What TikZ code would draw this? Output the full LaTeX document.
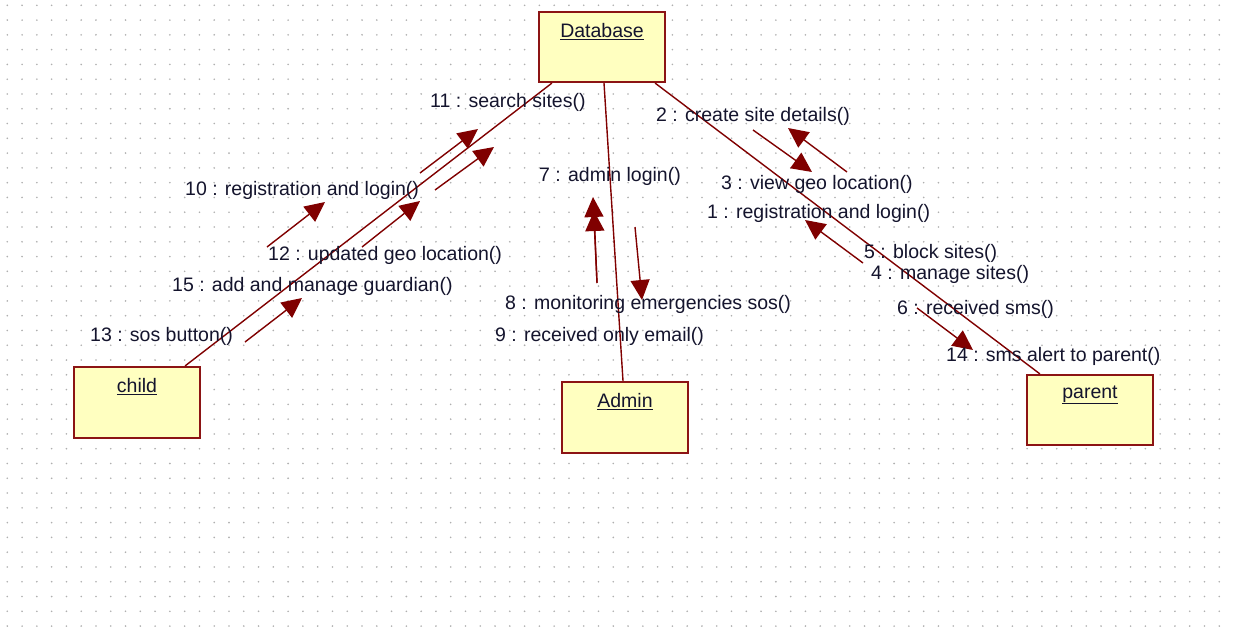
\documentclass[tikz,border=0pt]{standalone}
\usepackage{fontspec}
\newfontfamily\lab{Liberation Sans}
\usetikzlibrary{arrows.meta,calc}
\definecolor{dotc}{RGB}{175,175,175}
\definecolor{linkc}{RGB}{128,0,0}
\definecolor{boxfill}{RGB}{255,255,192}
\definecolor{boxdraw}{RGB}{140,20,20}
\definecolor{txtc}{RGB}{20,20,45}
\tikzset{
  objbox/.style={draw=boxdraw, line width=2.2pt, fill=boxfill, minimum width=126pt, minimum height=70pt, inner sep=0pt},
  objname/.style={anchor=center, inner sep=0pt, text=txtc, font=\lab\fontsize{19.5}{22}\selectfont},
  msg/.style={anchor=west, inner sep=0pt, text=txtc, font=\lab\fontsize{19.5}{22}\selectfont},
  link/.style={draw=linkc, line width=1.4pt},
  msgarrow/.style={draw=linkc, line width=1.4pt, -{Triangle[length=20pt,width=19pt]}, linkc}
}
\begin{document}
\begin{tikzpicture}[x=1pt,y=-1pt]
\useasboundingbox (0,0) rectangle (1233,627);
\fill[white] (0,0) rectangle (1233,627);
% dotted grid
\foreach \i in {0,...,82}{
  \foreach \j in {0,...,42}{
    \fill[dotc] ({7.3+14.78*\i},{5.3+14.78*\j}) circle (0.9);
  }
}
% objects
\node[objbox] (db) at (602,47) {};
\node[objbox, minimum height=71pt] (child) at (137,402.5) {};
\node[objbox, minimum height=71pt] (admin) at (625,417.5) {};
\node[objbox] (parent) at (1090,410) {};
% links
\draw[link] ($(db.south west)+(14,0)$) -- ($(child.north east)+(-16,0)$);
\draw[link] ($(db.south)+(2,0)$) -- ($(admin.north)+(-2,0)$);
\draw[link] ($(db.south east)+(-11,0)$) -- ($(parent.north west)+(14,0)$);
% object names
\node[objname] (dbt) at ($(db.north)+(0,21)$) {\underline{Database}};
\node[objname] (childt) at ($(child.north)+(0,21)$) {\underline{child}};
\node[objname] (admint) at ($(admin.north)+(0,21)$) {\underline{Admin}};
\node[objname] (parentt) at ($(parent.north)+(0,21)$) {\underline{parent}};
% message arrows
\draw[msgarrow] (420,173) -- (478,129);
\draw[msgarrow] (435,190) -- (494,147);
\draw[msgarrow] (267,247) -- (325,202);
\draw[msgarrow] (362,247) -- (420,201);
\draw[msgarrow] (245,342) -- (302,298);
\draw[msgarrow] (597,283) -- (594,211);
\draw[msgarrow] (597,283) -- (593,197);
\draw[msgarrow] (635,227) -- (642,300);
\draw[msgarrow] (753,130) -- (812,172);
\draw[msgarrow] (847,172) -- (788,128);
\draw[msgarrow] (863,263) -- (805,220);
\draw[msgarrow] (917,308) -- (973,350);
% message labels
\node[msg] (m11) at (430,102) {11 : search sites()};
\node[msg] (m2) at (656,116) {2 : create site details()};
\node[msg] (m10) at (185,190) {10 : registration and login()};
\node[msg] (m7) at (539,176) {7 : admin login()};
\node[msg] (m3) at (721,184) {3 : view geo location()};
\node[msg] (m1) at (707,213) {1 : registration and login()};
\node[msg] (m12) at (268,255) {12 : updated geo location()};
\node[msg] (m5) at (864,253) {5 : block sites()};
\node[msg] (m15) at (172,286) {15 : add and manage guardian()};
\node[msg] (m4) at (871,274) {4 : manage sites()};
\node[msg] (m8) at (505,304) {8 : monitoring emergencies sos()};
\node[msg] (m6) at (897,309) {6 : received sms()};
\node[msg] (m13) at (90,336) {13 : sos button()};
\node[msg] (m9) at (495,336) {9 : received only email()};
\node[msg] (m14) at (946,356) {14 : sms alert to parent()};
\end{tikzpicture}
\end{document}
